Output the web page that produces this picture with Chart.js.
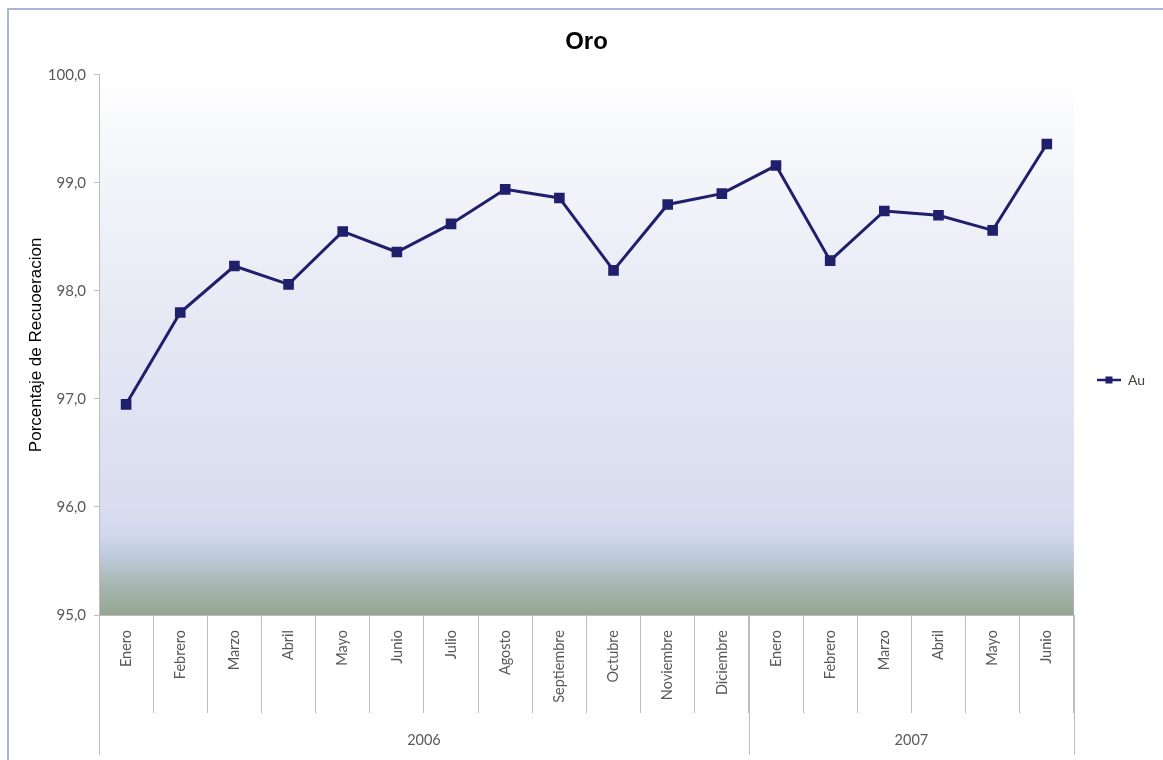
<!DOCTYPE html>
<html>
<head>
<meta charset="utf-8">
<title>Oro</title>
<script src="https://cdn.jsdelivr.net/npm/chart.js@4.4.0/dist/chart.umd.min.js"></script>
<style>
  html, body { margin: 0; padding: 0; background: #fff; overflow: hidden; }
  #wrap { position: relative; width: 1163px; height: 760px; }
  #marco { position: absolute; left: 7px; top: 8px; width: 1200px; height: 800px;
           border-left: 2px solid #aab5da; border-top: 2px solid #aab5da; }
  #oroChart { position: absolute; left: 0; top: 0; }
</style>
</head>
<body>
<div id="wrap">
  <div id="marco"></div>
  <canvas id="oroChart" width="1163" height="760"></canvas>
</div>

<script>
  // meses de cada periodo y su año
  const meses = ['Enero', 'Febrero', 'Marzo', 'Abril', 'Mayo', 'Junio', 'Julio', 'Agosto',
                 'Septiembre', 'Octubre', 'Noviembre', 'Diciembre',
                 'Enero', 'Febrero', 'Marzo', 'Abril', 'Mayo', 'Junio'];
  const anios = ['2006', '2007'];
  const mesesPorAnio = [12, 6];

  // recuperacion de oro (%)
  const recuperacionAu = [96.95, 97.80, 98.23, 98.06, 98.55, 98.36, 98.62, 98.94, 98.86,
                          98.19, 98.80, 98.90, 99.16, 98.28, 98.74, 98.70, 98.56, 99.36];

  const ejeY = { min: 95, max: 100, paso: 1 };

  const azul = '#1f1f6b';
  const gris = '#595959';
  const lineaEje = '#bdbdbd';
  const fuente = 'Lato, "Liberation Sans", sans-serif';

  // icono de la leyenda: linea con marcador cuadrado
  const marca = document.createElement('canvas');
  marca.width = 24; marca.height = 10;
  const mc = marca.getContext('2d');
  mc.strokeStyle = azul; mc.lineWidth = 2.5;
  mc.beginPath(); mc.moveTo(0, 5); mc.lineTo(24, 5); mc.stroke();
  mc.fillStyle = azul; mc.fillRect(8.5, 1.5, 7, 7);

  // fondo degradado del area de trazado
  const fondo = {
    id: 'fondo',
    beforeDraw(chart) {
      const { ctx, chartArea: a } = chart;
      const g = ctx.createLinearGradient(0, a.top, 0, a.bottom);
      g.addColorStop(0.00, '#ffffff');
      g.addColorStop(0.12, '#f7f8fb');
      g.addColorStop(0.45, '#e6e8f4');
      g.addColorStop(0.80, '#d9ddef');
      g.addColorStop(0.85, '#d2d8ed');
      g.addColorStop(0.89, '#bfcbde');
      g.addColorStop(0.94, '#a9b8b2');
      g.addColorStop(1.00, '#94a692');
      ctx.save();
      ctx.fillStyle = g;
      ctx.fillRect(a.left, a.top, a.right - a.left, a.bottom - a.top);
      ctx.restore();
    }
  };

  // segunda fila del eje X: años
  const filaAnios = {
    id: 'filaAnios',
    afterDraw(chart) {
      const { ctx } = chart;
      const x = chart.scales.x;
      const yIni = chart.chartArea.bottom;
      const yFin = 755;
      const borde = i => {
        if (i <= 0) return x.left;
        if (i >= meses.length) return x.right;
        return (x.getPixelForValue(i - 1) + x.getPixelForValue(i)) / 2;
      };
      ctx.save();
      ctx.strokeStyle = lineaEje;
      ctx.lineWidth = 1;
      ctx.fillStyle = gris;
      ctx.font = '14.5px ' + fuente;
      ctx.textAlign = 'center';
      ctx.textBaseline = 'middle';
      let ini = 0;
      const cortes = [0];
      mesesPorAnio.forEach((n, k) => {
        const fin = ini + n;
        cortes.push(fin);
        ctx.fillText(anios[k], (borde(ini) + borde(fin)) / 2, 740);
        ini = fin;
      });
      cortes.forEach(i => {
        const px = Math.round(borde(i)) + 0.5;
        ctx.beginPath(); ctx.moveTo(px, yIni); ctx.lineTo(px, yFin); ctx.stroke();
      });
      ctx.restore();
    }
  };

  new Chart(document.getElementById('oroChart'), {
    type: 'line',
    data: {
      labels: meses,
      datasets: [{
        label: 'Au',
        data: recuperacionAu,
        borderColor: azul,
        backgroundColor: azul,
        borderWidth: 3,
        pointStyle: 'rect',
        pointRadius: 7.5,
        pointBorderWidth: 0,
        pointBackgroundColor: azul,
        tension: 0
      }]
    },
    options: {
      responsive: false,
      animation: false,
      devicePixelRatio: 1,
      layout: { padding: { left: 18, right: 8, top: 0, bottom: 0 } },
      plugins: {
        title: {
          display: true,
          text: 'Oro',
          color: '#000',
          font: { family: '"Liberation Sans", Arial, sans-serif', size: 24, weight: 'bold' },
          padding: { top: 28, bottom: 18 }
        },
        legend: {
          position: 'right',
          labels: {
            usePointStyle: true,
            pointStyle: marca,
            pointStyleWidth: 24,
            color: '#404040',
            font: { family: fuente, size: 14 },
            padding: 23
          }
        },
        tooltip: { enabled: false }
      },
      scales: {
        x: {
          offset: true,
          afterFit(s) { s.height = 145; },
          grid: {
            offset: true,
            drawOnChartArea: false,
            drawTicks: true,
            tickLength: 98,
            color: lineaEje
          },
          border: { display: true, color: lineaEje },
          ticks: {
            minRotation: 90,
            maxRotation: 90,
            autoSkip: false,
            padding: -83,
            color: gris,
            font: { family: fuente, size: 14.5 }
          }
        },
        y: {
          min: ejeY.min,
          max: ejeY.max,
          afterFit(s) { s.width = 99 - 18; },
          grid: { drawOnChartArea: false, tickLength: 5, color: lineaEje },
          border: { color: lineaEje },
          ticks: {
            stepSize: ejeY.paso,
            padding: 8,
            color: gris,
            font: { family: fuente, size: 15 },
            callback: v => v.toFixed(1).replace('.', ',')
          },
          title: {
            display: true,
            text: 'Porcentaje de Recuoeracion',
            color: '#000',
            font: { family: '"Liberation Sans", Arial, sans-serif', size: 17 },
            padding: { top: 8, bottom: 0 }
          }
        }
      }
    },
    plugins: [fondo, filaAnios]
  });
</script>
</body>
</html>
